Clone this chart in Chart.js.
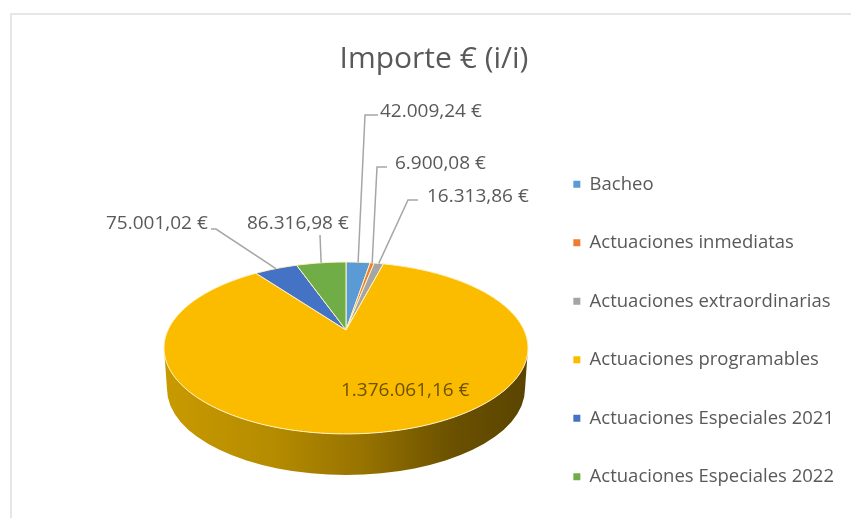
<!DOCTYPE html>
<html><head><meta charset="utf-8">
<style>html,body{margin:0;padding:0;background:#fff}#w{width:851px;height:518px;overflow:hidden}canvas{filter:blur(.5px)}</style>
<script src="https://cdn.jsdelivr.net/npm/chart.js@4"></script></head>
<body><div id="w"><canvas id="c" width="851" height="518"></canvas></div>
<script>
const categories=['Bacheo','Actuaciones inmediatas','Actuaciones extraordinarias','Actuaciones programables','Actuaciones Especiales 2021','Actuaciones Especiales 2022'];
const importes=[42009.24,6900.08,16313.86,1376061.16,75001.02,86316.98];
const valueLabels=['42.009,24 €','6.900,08 €','16.313,86 €','1.376.061,16 €','75.001,02 €','86.316,98 €'];
const colors=['#5B9BD5','#ED7D31','#A5A5A5','#FBBC00','#4472C4','#70AD47'];
const FONT='"Open Sans","Noto Sans",sans-serif';
const TEXT='#595959';
// projective view of the pie disc
const AX=346,AY=330,K=-0.209,A=178,B=82.2;
function project(angle){ // chart.js angle, -PI/2 = top
  const x=Math.cos(angle),y=Math.sin(angle),d=1+K*y;
  return [AX+A*x/d,AY+B*y/d];
}
// label layout: text anchor (left x, centre y), elbow points
const labelLayout=[
 {tx:380,ty:112,pts:[[365,115],[378,115]]},
 {tx:395,ty:164,pts:[[377,167],[387,167]]},
 {tx:427,ty:197,pts:[[408,200],[418,200]]},
 {tx:341,ty:391},
 {tx:106,ty:224,pts:[[216,229],[211,229]]},
 {tx:247,ty:224,pts:[[320,235]]},
];
function rimPath(ctx,a0,a1){
  const n=Math.max(2,Math.ceil(Math.abs(a1-a0)/0.02));
  for(let i=0;i<=n;i++){const p=project(a0+(a1-a0)*i/n);ctx.lineTo(p[0],p[1]);}
}
const pie3d={
 id:'pie3d',
 beforeDraw(chart){
  const ctx=chart.ctx;ctx.save();
  ctx.strokeStyle='#e6e6e6';ctx.lineWidth=2;
  ctx.beginPath();ctx.moveTo(11,518);ctx.lineTo(11,14);ctx.lineTo(851,14);ctx.stroke();
  ctx.restore();
 },
 beforeDatasetDraw(chart,args){
  const ctx=chart.ctx,meta=args.meta;
  // side wall
  ctx.save();
  const g=ctx.createLinearGradient(166,0,527,0);
  g.addColorStop(0,'#c89a00');g.addColorStop(.3,'#b58b00');g.addColorStop(.55,'#967200');g.addColorStop(.8,'#6a5000');g.addColorStop(1,'#5a4400');
  ctx.fillStyle=g;
  ctx.beginPath();
  ctx.ellipse(346,348,182,86,0,Math.PI,0,true);
  ctx.ellipse(346,389,179,86,0,0,Math.PI,false);
  ctx.closePath();ctx.fill();
  // top face
  meta.data.forEach((arc,i)=>{
    ctx.beginPath();ctx.moveTo(AX,AY);
    rimPath(ctx,arc.startAngle,arc.endAngle);
    ctx.closePath();
    ctx.fillStyle=colors[i];ctx.fill();
    ctx.strokeStyle='#fff2c8';ctx.lineWidth=1;ctx.lineJoin='round';ctx.stroke();
  });
  ctx.restore();
  return false;
 },
 afterDatasetsDraw(chart){
  const ctx=chart.ctx,meta=chart.getDatasetMeta(0);
  ctx.save();
  ctx.font='19px '+FONT;ctx.textBaseline='middle';ctx.textAlign='left';
  meta.data.forEach((arc,i)=>{
    const L=labelLayout[i];
    if(L.pts){
      const p=project((arc.startAngle+arc.endAngle)/2);
      ctx.strokeStyle='#a6a6a6';ctx.lineWidth=1.5;
      ctx.beginPath();ctx.moveTo(p[0],p[1]);
      L.pts.forEach(q=>ctx.lineTo(q[0],q[1]));ctx.stroke();
    }
    ctx.fillStyle=i===3?'#6b5200':TEXT;
    ctx.fillText(valueLabels[i],L.tx,L.ty);
  });
  ctx.restore();
 }
};
new Chart(document.getElementById('c'),{
 type:'pie',
 data:{labels:categories,datasets:[{data:importes,backgroundColor:colors,borderWidth:0}]},
 plugins:[pie3d],
 options:{
  responsive:false,animation:false,
  layout:{padding:{left:24,right:7,top:41,bottom:-8}},
  plugins:{
   title:{display:true,text:'Importe € (i/i)',color:TEXT,font:{family:FONT,size:30,weight:'normal'},padding:{top:0,bottom:6}},
   legend:{position:'right',align:'end',labels:{boxWidth:7,boxHeight:7,padding:40,color:TEXT,font:{family:FONT,size:18.5}}},
   tooltip:{enabled:false}
  }
 }
});
</script></body></html>
